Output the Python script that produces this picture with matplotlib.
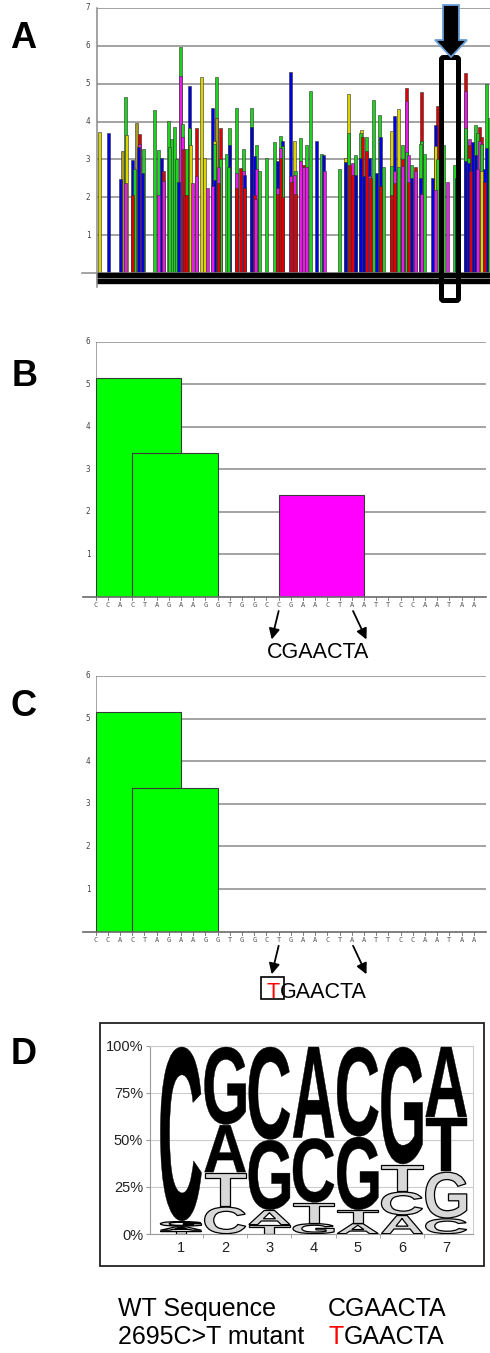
import matplotlib
matplotlib.use("Agg")
import matplotlib.pyplot as plt
from matplotlib.patches import Rectangle, Polygon, FancyBboxPatch, PathPatch
from matplotlib.textpath import TextPath
from matplotlib.font_manager import FontProperties
from matplotlib.transforms import Affine2D

plt.rcParams['font.family'] = ['Liberation Sans', 'DejaVu Sans']

# ---- panel A: genome-wide scan (position, score, colour code) ----
a_pos = [0.8, 3.8, 7.7, 8.4, 9.4, 9.4, 9.9, 11.9, 11.9, 12.4, 13.2, 13.8, 14.3, 14.3, 15.2, 15.4,
         19.3, 20.4, 20.4, 21.6, 22.1, 22.1, 23.8, 24.0, 24.9, 25.8, 26.6, 27.1, 27.8, 27.8,
         28.4, 28.4, 28.8, 29.1, 29.9, 29.9, 30.7, 30.7, 31.2, 31.9, 33.0, 33.0, 34.9, 35.7,
         36.8, 38.4, 38.4, 39.3, 39.3, 39.3, 39.9, 39.9, 40.4, 40.4, 41.0, 41.0, 43.0, 43.8,
         44.3, 44.3, 46.4, 46.4, 46.4, 47.9, 48.8, 48.8, 49.1, 49.3, 51.6, 51.6, 52.4, 52.4,
         52.7, 53.2, 53.2, 54.3, 56.6, 59.3, 60.1, 60.1, 60.3, 61.2, 61.2, 61.2, 61.9, 61.9,
         61.9, 64.6, 64.6, 64.8, 65.7, 65.7, 66.3, 66.3, 67.7, 67.7, 68.8, 68.8, 69.9, 69.9,
         71.2, 73.2, 74.9, 75.4, 75.7, 80.8, 82.7, 82.7, 83.8, 83.8, 84.3, 85.2, 85.2, 86.3,
         86.3, 87.7, 87.7, 88.2, 88.4, 88.8, 89.9, 89.9, 90.8, 90.8, 91.0, 92.1, 93.2, 94.0,
         94.6, 94.6, 95.4, 98.2, 98.2, 98.2, 99.0, 99.0, 99.2, 100.4, 100.4, 101.8, 101.8,
         101.8, 103.0, 103.0, 103.0, 103.8, 103.8, 104.7, 104.9, 106.0, 106.0, 107.7, 107.7,
         108.2, 108.2, 108.2, 109.1, 111.9, 112.7, 112.7, 112.7, 113.6, 113.6, 115.4, 116.8,
         119.0, 119.7, 122.7, 122.7, 122.7, 122.9, 123.8, 123.8, 124.3, 124.3, 124.6, 125.2,
         126.0, 126.0, 126.8, 126.8, 127.4, 127.4, 128.2, 128.2, 128.2, 129.0, 129.0, 129.9,
         129.9, 130.8]
a_score = [3.73, 3.71, 2.48, 3.22, 4.65, 2.37, 3.64, 2.98, 2.05, 2.74, 3.97, 3.33, 3.66, 3.4, 2.65, 3.27,
           4.3, 3.25, 2.07, 3.03, 2.7, 2.42, 4.02, 3.33, 3.55, 3.86, 3.0, 2.4, 5.98, 5.2,
           3.93, 3.58, 3.27, 2.05, 3.27, 2.05, 4.94, 3.82, 3.38, 2.38, 3.83, 2.55, 5.17, 3.03,
           2.25, 4.35, 2.3, 3.5, 3.4, 2.45, 5.17, 4.1, 2.8, 2.38, 3.83, 3.0, 3.15, 2.8,
           3.83, 3.38, 4.37, 2.65, 2.25, 2.78, 3.27, 2.7, 2.6, 2.25, 4.37, 3.86, 3.1, 2.05,
           1.95, 3.38, 2.75, 2.7, 3.04, 3.47, 2.97, 2.25, 2.1, 3.63, 3.3, 3.05, 3.5, 3.36,
           2.0, 5.3, 2.55, 2.4, 3.48, 2.6, 2.7, 2.1, 3.56, 2.95, 2.85, 2.8, 3.38, 2.8,
           4.82, 3.5, 3.15, 3.13, 2.7, 2.75, 3.05, 2.93, 4.72, 3.7, 2.85, 2.9, 2.6, 3.13,
           2.6, 3.7, 3.03, 3.78, 3.6, 2.55, 3.6, 3.23, 3.03, 2.55, 2.5, 4.56, 2.65, 4.17,
           3.6, 2.3, 2.8, 3.75, 2.82, 2.05, 4.15, 2.7, 2.37, 4.33, 2.8, 3.38, 3.0,
           2.82, 4.88, 4.55, 3.2, 3.13, 2.4, 2.85, 2.5, 2.8, 2.7, 3.42, 2.5,
           4.77, 3.5, 2.1, 3.15, 2.52, 3.9, 3.35, 2.2, 4.4, 3.0, 3.38, 2.4,
           2.86, 2.5, 5.27, 4.8, 3.82, 2.95, 3.05, 2.9, 3.55, 3.38, 2.7, 3.45,
           3.9, 3.13, 3.7, 2.75, 3.85, 3.48, 3.6, 3.4, 2.7, 2.75, 2.4, 5.0,
           3.3, 4.1]
a_code = ("ybbogmybrg" "obrmbgggmb" "rmgggggbgm" "gmrrgrbgym" "rmyymbmygb"
          "gomrrggggb" "gmrrgmbrgb" "brmgmgggbm" "rgmrbgrbmr" "ymgrgmrmgm"
          "gbgbmgybyg" "rmrgbgbyrb" "grbmrgbgbr" "gygrbmrygg" "rmrmgmrgbr"
          "mgbrgmgbby" "mrggmgbrmg" "bgbmrrbgbg" "mrmrgybrgbg")
a_ticks = [1, 2, 3, 4, 5, 6, 7]

# ---- panels B / C: local window ----
seq_wt = "CCACTAGAAGGTGGCCGAACTAATTCCAATAA"
seq_mut = "CCACTAGAAGGTGGCTGAACTAATTCCAATAA"
b_start = [0, 3, 15]
b_height = [5.15, 3.38, 2.4]
b_colors = ['#00ff00', '#00ff00', '#ff00ff']
c_start = [0, 3]
c_height = [5.15, 3.38]
c_colors = ['#00ff00', '#00ff00']
site_width = 7
bc_ticks = [1, 2, 3, 4, 5, 6]

# ---- panel D: logo (bottom -> top letters, percent boundaries, dark?) ----
logo_letters = ["TAGC", "CTAG", "TAGC", "GTCA", "ATGC", "ACTG", "CGTA"]
logo_bounds = [[0, 1.8, 4.0, 6.8, 99.5],
               [0, 14.5, 32.7, 58, 99.5],
               [0, 4.8, 12.7, 50, 99.5],
               [0, 5.7, 16.6, 51, 99.5],
               [0, 5.7, 12.7, 51.7, 99.5],
               [0, 10, 22.5, 37, 99.5],
               [0, 8.3, 33, 62, 99.5]]
logo_dark = [[0, 0, 0, 1], [0, 0, 1, 1], [0, 0, 1, 1], [0, 0, 1, 1],
             [0, 0, 1, 1], [0, 0, 0, 1], [0, 0, 1, 1]]

W, H = 490, 1353


def rect(l, t, r, b):
    return [l / W, 1 - b / H, (r - l) / W, (b - t) / H]


fig = plt.figure(figsize=(W / 100, H / 100), dpi=100)
cmap = {'g': '#1fd21f', 'b': '#0000dd', 'r': '#dd0000', 'm': '#e81ce8',
        'y': '#dcd400', 'o': '#a89a20'}
GRID = '#8a8a8a'

# panel A
ax = fig.add_axes(rect(97, 8, 490, 273))
ax.set_xlim(0, 131)
ax.set_ylim(0, 7)
ax.axis('off')
ax.hlines(a_ticks, 0, 131, color=GRID, lw=1.1, zorder=1)
bars = sorted(zip(a_pos, a_score, a_code), key=lambda b: -b[1])
for k, (p, s, c) in enumerate(bars):
    ax.bar(p, s, width=1.0, color=cmap[c], edgecolor='#303030', lw=0.4,
           zorder=2 + k * 0.001)
ax.plot([-5, 131], [0, 0], color=GRID, lw=1.1, clip_on=False, zorder=3)
ax.add_patch(Rectangle((0, -0.27), 131, 0.27, color='black', clip_on=False, zorder=4))
ax.plot([0, 131], [-0.135, -0.135], color='#9a9a9a', lw=0.6, clip_on=False, zorder=5)
ax.plot([0, 0], [-0.36, 7], color=GRID, lw=1.1, clip_on=False, zorder=5)
for t in a_ticks:
    ax.text(-3, t, str(t), ha='center', va='center', fontsize=5.5,
            color='#444444', family='DejaVu Sans Mono')


def window_panel(top, bottom, seq, starts, heights, colors):
    ax = fig.add_axes(rect(95.7, top, 486, bottom))
    ax.set_xlim(0, 32)
    ax.set_ylim(0, 6)
    ax.axis('off')
    ax.hlines(bc_ticks, 0, 32, color=GRID, lw=1.1, zorder=1)
    ax.plot([0, 0], [0, 6], color=GRID, lw=1.1, zorder=1)
    ax.plot([-1.05, 32], [0, 0], color='#6a6a6a', lw=1.2, clip_on=False, zorder=5)
    for k, (s, h, c) in enumerate(zip(starts, heights, colors)):
        ax.bar(s, h, width=site_width, align='edge', color=c,
               edgecolor='#3a3a3a', lw=0.8, zorder=2 + k)
    for i, ch in enumerate(seq):
        ax.plot([i, i], [0, -0.08], color='#6a6a6a', lw=0.6, clip_on=False)
        ax.text(i, -0.19, ch, ha='center', va='center', fontsize=5,
                color='#555555', family='DejaVu Sans Mono', clip_on=False)
    for t in bc_ticks:
        ax.text(-0.63, t, str(t), ha='center', va='center', fontsize=5.5,
                color='#444444', family='DejaVu Sans Mono')
    ap = dict(arrowstyle='-|>', mutation_scale=16, lw=1.3, color='black',
              shrinkA=0, shrinkB=0)
    ax.annotate('', xy=(14.43, -1.0), xytext=(15.0, -0.33), arrowprops=ap,
                annotation_clip=False)
    ax.annotate('', xy=(22.2, -1.0), xytext=(21.1, -0.33), arrowprops=ap,
                annotation_clip=False)
    return ax


def red_first(ax, x, y, word, size, **kw):
    # first base in red, the rest placed right after it
    t = ax.text(x, y, word[0], ha='left', va='baseline', fontsize=size,
                color='#ff0000', clip_on=False, **kw)
    ax.annotate(word[1:], xy=(1, 0), xycoords=t, ha='left', va='bottom',
                fontsize=size, annotation_clip=False)
    return t


axb = window_panel(342, 597, seq_wt, b_start, b_height, b_colors)
axb.text(14.0, -1.3, seq_wt[15:22], ha='left', va='center', fontsize=15.5,
         clip_on=False)

axc = window_panel(676, 931.7, seq_mut, c_start, c_height, c_colors)
red_first(axc, 14.0, -1.55, seq_mut[15:22], 15.5)
axc.add_patch(Rectangle((13.55, -1.58), 1.88, 0.517, fill=False, ec='black',
                        lw=1.2, clip_on=False, zorder=6))

# panel D: sequence logo
axd = fig.add_axes(rect(150, 1045.7, 472.7, 1234))
axd.set_xlim(0.3, 7.6)
axd.set_ylim(0, 100)
axd.set_yticks([0, 25, 50, 75, 100])
axd.set_yticklabels(['0%', '25%', '50%', '75%', '100%'], fontsize=10.5, color='#222222')
axd.set_xticks(range(1, 8))
axd.set_xticklabels([str(i) for i in range(1, 8)], fontsize=10.5, color='#222222')
axd.set_xticks([1.5, 2.5, 3.5, 4.5, 5.5, 6.5], minor=True)
axd.tick_params(axis='x', which='major', length=0, pad=5)
axd.tick_params(axis='x', which='minor', length=3, color='#999999')
axd.tick_params(axis='y', length=3, color='#999999', pad=2)
for s in ['top', 'right']:
    axd.spines[s].set_color('#cccccc')
for s in ['left', 'bottom']:
    axd.spines[s].set_color('#999999')
axd.grid(axis='y', color='#cccccc', lw=0.8)
axd.set_axisbelow(True)

fp = FontProperties(family='Liberation Sans', weight='bold')
for col, (letters, bounds, dark) in enumerate(zip(logo_letters, logo_bounds, logo_dark)):
    xc = col + 1
    for j, ch in enumerate(letters):
        y0, y1 = bounds[j], bounds[j + 1]
        tp = TextPath((0, 0), ch, size=1, prop=fp)
        bb = tp.get_extents()
        w = 0.93
        tr = Affine2D().translate(-bb.x0, -bb.y0).scale(w / bb.width, (y1 - y0 - 0.4) / bb.height) \
            .translate(xc - w / 2, y0 + 0.2)
        path = tr.transform_path(tp)
        if dark[j]:
            axd.add_patch(PathPatch(path, fc='black', ec='black', lw=0.3, zorder=3))
        else:
            axd.add_patch(PathPatch(path, fc='#d8d8d8', ec='black', lw=0.9, zorder=3))

# overlay in pixel coordinates
ov = fig.add_axes([0, 0, 1, 1], zorder=10)
ov.set_xlim(0, W)
ov.set_ylim(H, 0)
ov.axis('off')
ov.patch.set_alpha(0)

ov.add_patch(Polygon([(443, 5), (459, 5), (459, 40), (467, 40), (451, 57),
                      (435, 40), (443, 40)], closed=True, fc='black',
                     ec='#6a9fd8', lw=1.3, zorder=5))
ov.add_patch(FancyBboxPatch((441.5, 57.5), 17, 243, boxstyle='round,pad=0,rounding_size=2',
                            fill=False, ec='black', lw=3.6, zorder=4))

for lab, (x, y) in zip("ABCD", [(23.5, 39), (24.7, 376), (23.5, 706), (23.5, 1055)]):
    ov.text(x, y, lab, ha='center', va='center', fontsize=26, fontweight='bold')

ov.add_patch(Rectangle((100, 1022.7), 384, 243.3, fill=False, ec='#222222', lw=1.3))

ov.text(118, 1316, "WT Sequence", ha='left', va='baseline', fontsize=18)
ov.text(328, 1316, seq_wt[15:22], ha='left', va='baseline', fontsize=18)
ov.text(118, 1344, "2695C>T mutant", ha='left', va='baseline', fontsize=18)
red_first(ov, 328, 1344, seq_mut[15:22], 18)

fig.savefig("out.png", dpi=100)
